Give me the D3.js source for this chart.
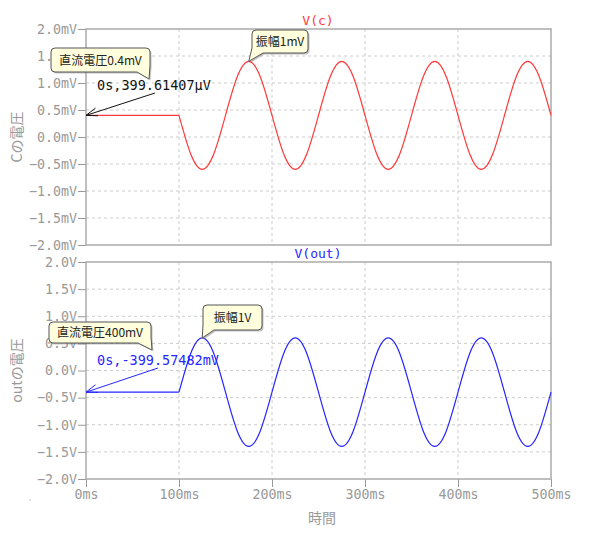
<!DOCTYPE html>
<html>
<head>
<meta charset="utf-8">
<script src="https://cdn.jsdelivr.net/npm/d3@7"></script>
<style>
  body { margin: 0; background: #fff; }
  svg { display: block; }
</style>
</head>
<body>
<svg id="chart" width="600" height="540"></svg>
<script>
// sample times (ms), one flat step then the sine every 1/8 period
var times = [0,
  100, 112.5, 125, 137.5, 150, 162.5, 175, 187.5,
  200, 212.5, 225, 237.5, 250, 262.5, 275, 287.5,
  300, 312.5, 325, 337.5, 350, 362.5, 375, 387.5,
  400, 412.5, 425, 437.5, 450, 462.5, 475, 487.5,
  500];

// V(c) in mV
var vc = [0.4,
  0.4, -0.31, -0.6, -0.31, 0.4, 1.11, 1.4, 1.11,
  0.4, -0.31, -0.6, -0.31, 0.4, 1.11, 1.4, 1.11,
  0.4, -0.31, -0.6, -0.31, 0.4, 1.11, 1.4, 1.11,
  0.4, -0.31, -0.6, -0.31, 0.4, 1.11, 1.4, 1.11,
  0.4];

// V(out) in V
var vout = [-0.4,
  -0.4, 0.31, 0.6, 0.31, -0.4, -1.11, -1.4, -1.11,
  -0.4, 0.31, 0.6, 0.31, -0.4, -1.11, -1.4, -1.11,
  -0.4, 0.31, 0.6, 0.31, -0.4, -1.11, -1.4, -1.11,
  -0.4, 0.31, 0.6, 0.31, -0.4, -1.11, -1.4, -1.11,
  -0.4];

var xTicks = [0, 100, 200, 300, 400, 500];
var yTicks = [-2, -1.5, -1, -0.5, 0, 0.5, 1, 1.5, 2];

var svg = d3.select('#chart');
var mono = 'DejaVu Sans Mono, monospace';
var cjk = '"Noto Sans CJK JP", "Noto Sans", sans-serif';

var x = d3.scaleLinear().domain([0, 500]).range([86, 551]);

var panels = [
  { name: 'V(c)', label: 'Cの電圧', unit: 'mV', values: vc, color: '#ff3a3a', top: 29, bottom: 245,
    cursor: { t: 0, v: 0.39961407, text: '0s,399.61407µV', color: '#111', from: [155, 93], textY: 90 },
    notes: [
      { text: '直流電圧0.4mV', box: [51, 48, 150, 72], tip: [149, 79], side: 'right' },
      { text: '振幅1mV', box: [252, 30, 308, 53], t: 175, v: 1.4, side: 'left' }
    ] },
  { name: 'V(out)', label: 'outの電圧', unit: 'V', values: vout, color: '#2626ff', top: 262, bottom: 479,
    cursor: { t: 0, v: -0.39957482, text: '0s,-399.57482mV', color: '#2626ff', from: [158, 368], textY: 365 },
    notes: [
      { text: '直流電圧400mV', box: [49, 322, 151, 343], tip: [152, 350], side: 'right' },
      { text: '振幅1V', box: [203, 305, 262, 330], t: 125, v: 0.6, side: 'left' }
    ] }
];

function bubblePath(b, tip, side) {
  var x0 = b[0], y0 = b[1], x1 = b[2], y1 = b[3], r = 4;
  if (side === 'right') {
    return 'M' + (x0 + r) + ',' + y0 + 'H' + (x1 - r) + 'Q' + x1 + ',' + y0 + ' ' + x1 + ',' + (y0 + r) +
      'V' + (y1 - 6) + 'L' + tip[0] + ',' + tip[1] + 'L' + (x1 - 13) + ',' + y1 +
      'H' + (x0 + r) + 'Q' + x0 + ',' + y1 + ' ' + x0 + ',' + (y1 - r) +
      'V' + (y0 + r) + 'Q' + x0 + ',' + y0 + ' ' + (x0 + r) + ',' + y0 + 'Z';
  }
  return 'M' + (x0 + r) + ',' + y0 + 'H' + (x1 - r) + 'Q' + x1 + ',' + y0 + ' ' + x1 + ',' + (y0 + r) +
    'V' + (y1 - r) + 'Q' + x1 + ',' + y1 + ' ' + (x1 - r) + ',' + y1 +
    'H' + (x0 + 11) + 'L' + tip[0] + ',' + tip[1] + 'L' + x0 + ',' + (y1 - 5) +
    'V' + (y0 + r) + 'Q' + x0 + ',' + y0 + ' ' + (x0 + r) + ',' + y0 + 'Z';
}

panels.forEach(function (p, pi) {
  var y = d3.scaleLinear().domain([-2, 2]).range([p.bottom, p.top]);
  var g = svg.append('g');

  // grid
  g.selectAll('.gx').data(xTicks.slice(1, -1)).enter().append('line')
    .attr('x1', function (d) { return x(d); }).attr('x2', function (d) { return x(d); })
    .attr('y1', p.top).attr('y2', p.bottom)
    .attr('stroke', '#ccc').attr('stroke-dasharray', '3,3');
  g.selectAll('.gy').data(yTicks.slice(1, -1)).enter().append('line')
    .attr('x1', 86).attr('x2', 551)
    .attr('y1', function (d) { return y(d); }).attr('y2', function (d) { return y(d); })
    .attr('stroke', '#ccc').attr('stroke-dasharray', '3,3');

  // y axis
  var ya = g.append('g').attr('transform', 'translate(86,0)')
    .call(d3.axisLeft(y).tickValues(yTicks).tickSize(8).tickPadding(1)
      .tickFormat(function (d) { return d3.format('.1f')(d) + p.unit; }));
  ya.select('.domain').remove();
  ya.selectAll('line').attr('stroke', '#999');
  ya.selectAll('text').attr('fill', '#999').style('font-family', mono).style('font-size', '13.3px');

  // x axis on the lower panel only
  if (pi === 1) {
    var xa = g.append('g').attr('transform', 'translate(0,' + p.bottom + ')')
      .call(d3.axisBottom(x).tickValues(xTicks).tickSize(8).tickPadding(3)
        .tickFormat(function (d) { return d + 'ms'; }));
    xa.select('.domain').remove();
    xa.selectAll('line').attr('stroke', '#999');
    xa.selectAll('text').attr('fill', '#999').style('font-family', mono).style('font-size', '13.3px');
  }

  // frame
  g.append('rect').attr('x', 86).attr('y', p.top).attr('width', 465).attr('height', p.bottom - p.top)
    .attr('fill', 'none').attr('stroke', '#aaa').attr('stroke-width', 1.5);

  // trace: flat part straight, sine part smooth
  var pts = times.map(function (t, i) { return [t, p.values[i]]; });
  g.append('path').datum(pts.slice(0, 2))
    .attr('d', d3.line().x(function (d) { return x(d[0]); }).y(function (d) { return y(d[1]); }))
    .attr('fill', 'none').attr('stroke', p.color).attr('stroke-width', 1.2);
  g.append('path').datum(pts.slice(1))
    .attr('d', d3.line().x(function (d) { return x(d[0]); }).y(function (d) { return y(d[1]); }).curve(d3.curveNatural))
    .attr('fill', 'none').attr('stroke', p.color).attr('stroke-width', 1.2);

  // title and y label
  g.append('text').attr('x', 318).attr('y', p.top - 4).attr('text-anchor', 'middle')
    .attr('fill', p.color).style('font-family', mono).style('font-size', '13px').text(p.name);
  g.append('text').attr('transform', 'translate(22,' + ((p.top + p.bottom) / 2) + ') rotate(-90)')
    .attr('text-anchor', 'middle').attr('fill', '#999')
    .style('font-family', cjk).style('font-size', '14px').text(p.label);

  // cursor readout with arrow
  var c = p.cursor;
  var tx = x(c.t), ty = y(c.v);
  var ang = Math.atan2(c.from[1] - ty, c.from[0] - tx);
  g.append('line').attr('x1', c.from[0]).attr('y1', c.from[1]).attr('x2', tx).attr('y2', ty)
    .attr('stroke', c.color).attr('stroke-width', 1);
  [-0.34, 0.34].forEach(function (da) {
    g.append('line').attr('x1', tx).attr('y1', ty)
      .attr('x2', tx + 12 * Math.cos(ang + da)).attr('y2', ty + 12 * Math.sin(ang + da))
      .attr('stroke', c.color).attr('stroke-width', 1);
  });
  g.append('text').attr('x', 97).attr('y', c.textY).attr('fill', c.color)
    .style('font-family', mono).style('font-size', '13.5px').text(c.text);

  // callouts
  p.notes.forEach(function (n) {
    var tip = n.tip ? n.tip : [x(n.t), y(n.v)];
    var d = bubblePath(n.box, tip, n.side);
    g.append('path').attr('d', d).attr('transform', 'translate(1.5,1.5)')
      .attr('fill', '#777').attr('opacity', 0.45);
    g.append('path').attr('d', d).attr('fill', '#ffffde').attr('stroke', '#555').attr('stroke-width', 1);
    g.append('text').attr('x', (n.box[0] + n.box[2]) / 2).attr('y', (n.box[1] + n.box[3]) / 2 + 4.5)
      .attr('text-anchor', 'middle').attr('fill', '#222')
      .style('font-family', cjk).style('font-size', '12px').text(n.text);
  });
});

svg.append('text').attr('x', 322).attr('y', 523).attr('text-anchor', 'middle').attr('fill', '#999')
  .style('font-family', cjk).style('font-size', '14px').text('時間');
svg.append('circle').attr('cx', 30).attr('cy', 500).attr('r', 0.8).attr('fill', '#bbb');
</script>
</body>
</html>
